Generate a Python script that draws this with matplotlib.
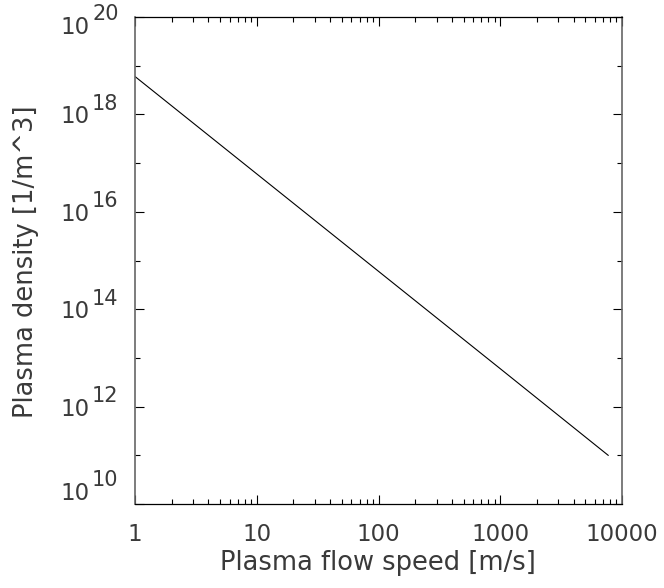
import numpy as np
import matplotlib
matplotlib.use('Agg')
from matplotlib import pyplot as plt
from matplotlib.ticker import LogLocator, NullFormatter, FixedLocator

# values
speed = [1, 10, 100, 1000, 7700]            # m/s
density = [6e18, 6e16, 6e14, 6e12, 1.0e11]  # 1/m^3

x_ticks = [1, 10, 100, 1000, 10000]
x_labels = ['1', '10', '100', '1000', '10000']
y_exps = [10, 12, 14, 16, 18, 20]
y_minor_exps = [11, 13, 15, 17, 19]
# where the "10" sits versus its tick, px downward (IDL pulls the end labels inside)
y_label_shift = {10: -11, 12: 2.5, 14: 2.5, 16: 2.5, 18: 2.5, 20: 10}

txt_color = '#3a3a3a'
plt.rcParams['font.family'] = ['DejaVu Sans']

fig = plt.figure(figsize=(6.64, 5.88), dpi=100)
ax = fig.add_axes([135/664, 84/588, 487/664, 487/588])

ax.plot(speed, density, color='black', linewidth=0.8)

ax.set_xscale('log')
ax.set_yscale('log')
ax.set_xlim(1, 10000)
ax.set_ylim(1e10, 1e20)

ax.xaxis.set_major_locator(FixedLocator(x_ticks))
ax.xaxis.set_minor_locator(LogLocator(base=10, subs=np.arange(2, 10)))
ax.xaxis.set_minor_formatter(NullFormatter())
ax.set_xticklabels(x_labels)

ax.yaxis.set_major_locator(FixedLocator([10.0**e for e in y_exps]))
ax.yaxis.set_minor_locator(FixedLocator([10.0**e for e in y_minor_exps]))
ax.yaxis.set_major_formatter(NullFormatter())
ax.yaxis.set_minor_formatter(NullFormatter())

ax.tick_params(which='both', direction='in', top=True, right=True, color='black', width=0.8)
ax.tick_params(which='major', length=6.8)
ax.tick_params(which='minor', length=3.4)
ax.tick_params(axis='x', which='major', labelsize=16.5, labelcolor=txt_color, pad=14)

for s in ['top', 'bottom']:
    ax.spines[s].set_color('black')
    ax.spines[s].set_linewidth(0.9)
for s in ['left', 'right']:
    ax.spines[s].set_color('#666666')
    ax.spines[s].set_linewidth(1.2)

# y tick labels drawn as "10" + raised exponent
for e in y_exps:
    dy = -y_label_shift[e] * 0.72
    ax.annotate('10', xy=(0, 10.0**e), xycoords=('axes fraction', 'data'),
                xytext=(-45*0.72, dy), textcoords='offset points',
                ha='right', va='center', fontsize=16.5, color=txt_color)
    ax.annotate(str(e), xy=(0, 10.0**e), xycoords=('axes fraction', 'data'),
                xytext=(-43*0.72, dy + 13*0.72), textcoords='offset points',
                ha='left', va='center', fontsize=15, color=txt_color)

fig.text(378/664, 1 - 563/588, 'Plasma flow speed [m/s]', ha='center', va='center',
         fontsize=18.5, color=txt_color)
fig.text(26/664, 1 - 262/588, 'Plasma density [1/m^3]', ha='center', va='center',
         rotation=90, fontsize=18.5, color=txt_color)

plt.savefig('out.png', dpi=100)
